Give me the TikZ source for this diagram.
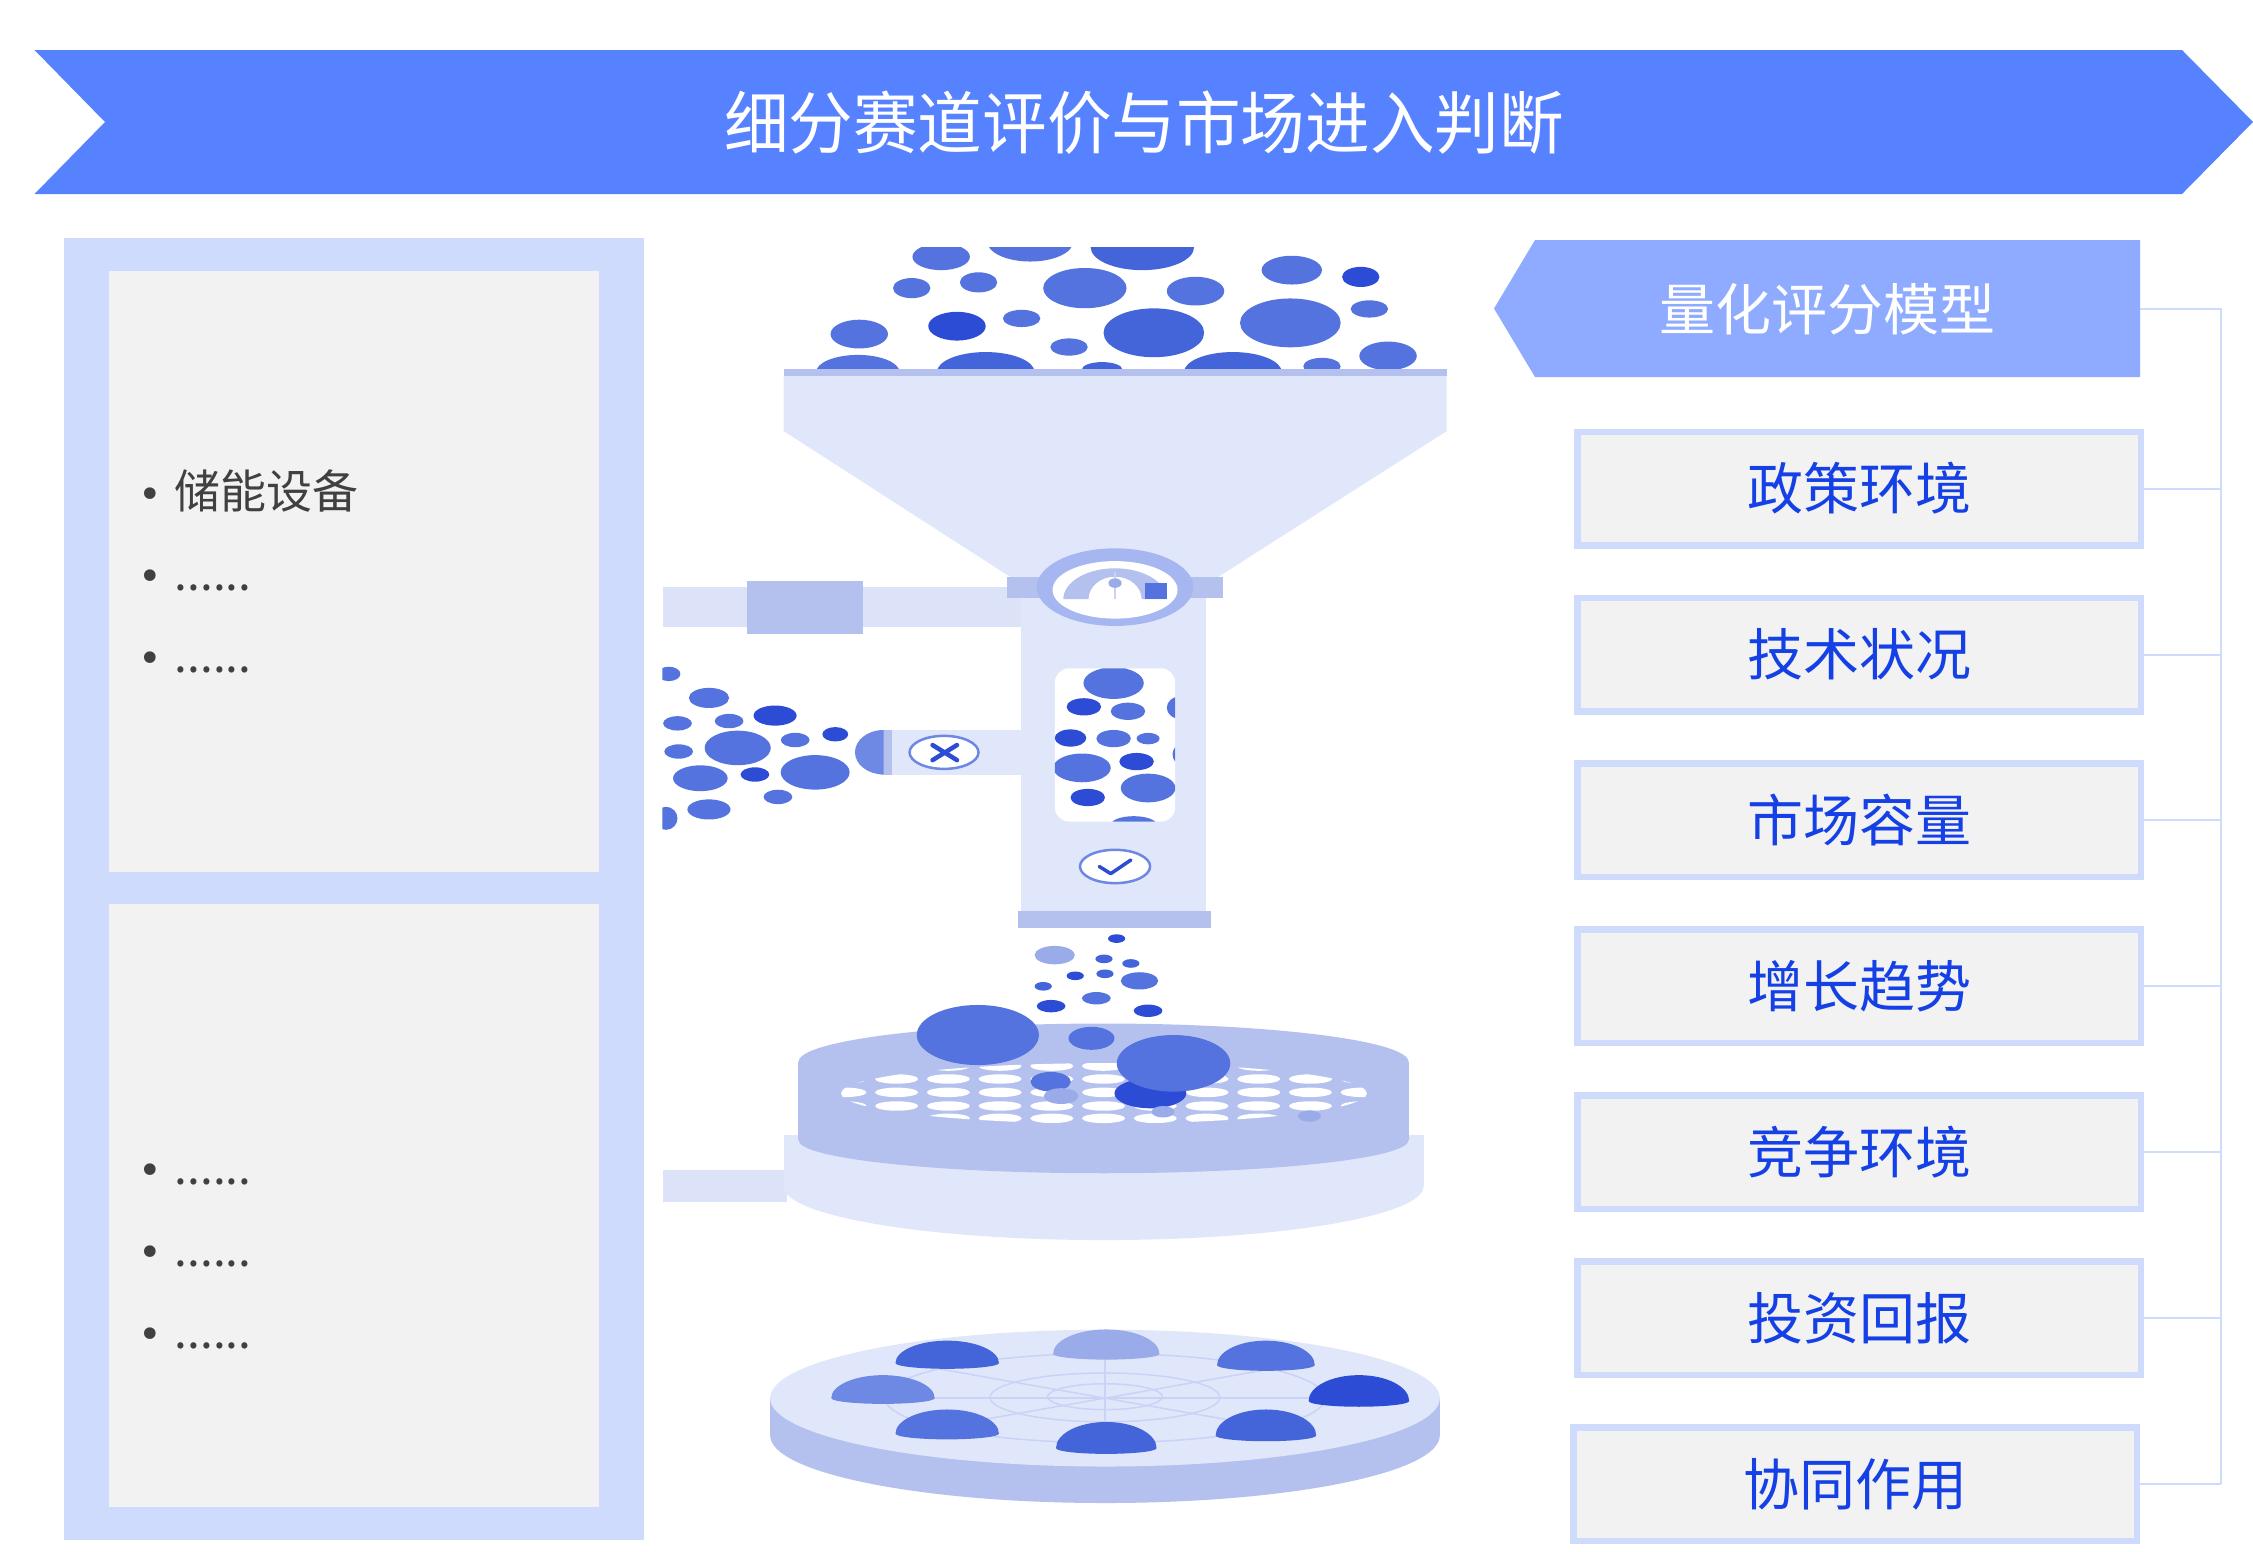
\documentclass[tikz,border=0pt]{standalone}
\usepackage{fontspec}
\setmainfont{Noto Sans CJK SC}
\newfontfamily\condfont[FakeStretch=0.95]{Noto Sans CJK SC}
\newfontfamily\bulfont{DejaVu Sans}
\definecolor{hdrblue}{HTML}{5782FF}
\definecolor{subhdr}{HTML}{8EABFF}
\definecolor{panelc}{HTML}{CFDBFD}
\definecolor{grayc}{HTML}{F2F2F2}
\definecolor{boxtxt}{HTML}{1440E6}
\definecolor{ltxtc}{HTML}{404040}
\definecolor{funL}{HTML}{E1E7FA}
\definecolor{pipeL}{HTML}{DCE2F8}
\definecolor{midc}{HTML}{B4C1EF}
\definecolor{ringc}{HTML}{A5B6F1}
\definecolor{gridc}{HTML}{C9D3F6}
\definecolor{iconc}{HTML}{6D88E3}
\definecolor{cA}{HTML}{2C4CD5}
\definecolor{cB}{HTML}{4464DA}
\definecolor{cC}{HTML}{5473DE}
\definecolor{cD}{HTML}{6E89E3}
\definecolor{cE}{HTML}{9AABEA}
\newcommand\mybub[5]{\fill[#1] (#2,#3) ellipse[x radius=#4,y radius=#5];}
\newcommand\mydome[5]{\fill[#1] ({#2-#5},{#4-4}) arc[start angle=180,end angle=360,x radius=#5,y radius={#4-4-#3}] arc[start angle=0,end angle=180,x radius=#5,y radius=4] -- cycle;}
\newcommand\mybullet{{\bulfont\fontsize{40}{40}\selectfont •}\hspace{13pt}}
\begin{document}
\begin{tikzpicture}[x=1pt,y=-1pt,
  rbox/.style={draw=panelc, line width=6.5pt, fill=grayc, minimum width=563.5pt, minimum height=113.5pt, inner sep=0pt, text=boxtxt, font=\fontsize{56}{60}\selectfont},
  conn/.style={draw=panelc, line width=2pt},
  ltxt/.style={anchor=base west, text=ltxtc, font=\fontsize{46}{50}\selectfont, inner sep=0pt},
  htxt/.style={text=white, inner sep=0pt}]
\useasboundingbox (0,0) rectangle (2253,1551);
\fill[white] (0,0) rectangle (2253,1551);

% ---------- title banner
\fill[hdrblue] (34.5,50) -- (2182,50) -- (2253,122) -- (2182,194) -- (34.5,194) -- (105,122) -- cycle;
\node[htxt, font=\condfont\fontsize{68}{72}\selectfont] (title) at (1144,123) {细分赛道评价与市场进入判断};

% ---------- left panel
\fill[panelc] (64,237.7) rectangle (643.6,1540);
\fill[grayc] (109,271) rectangle (599,872);
\fill[grayc] (109,904) rectangle (599,1507);
\node[ltxt] (l1) at (138,508) {\mybullet 储能设备};
\node[ltxt] (l2) at (138,590) {\mybullet ......};
\node[ltxt] (l3) at (138,672) {\mybullet ......};
\node[ltxt] (l4) at (138,1184) {\mybullet ......};
\node[ltxt] (l5) at (138,1266) {\mybullet ......};
\node[ltxt] (l6) at (138,1348) {\mybullet ......};

% ---------- right column
\fill[subhdr] (1535,240) -- (2140,240) -- (2140,377) -- (1535,377) -- (1494,308.5) -- cycle;
\node[htxt, font=\fontsize{56}{60}\selectfont] (h) at (1827,309.5) {量化评分模型};
\node[rbox] (r1) at (1859,488.5) {政策环境};
\node[rbox] (r2) at (1859,654.5) {技术状况};
\node[rbox] (r3) at (1859,820.4) {市场容量};
\node[rbox] (r4) at (1859,986.4) {增长趋势};
\node[rbox] (r5) at (1859,1152.4) {竞争环境};
\node[rbox] (r6) at (1859,1318.3) {投资回报};
\node[rbox] (r7) at (1855,1484.3) {协同作用};
\coordinate (hR) at (2140,308.5);
\coordinate (sp) at (2221,308.5);
\draw[conn] (hR) -- (sp) -- (sp |- r7.east);
\foreach \n in {r1,r2,r3,r4,r5,r6,r7} \draw[conn] (\n.east) -- (\n.east -| sp);

% ---------- illustration (coordinates in display units)
\begin{scope}[scale=1.4369]
  % top bubbles
  \begin{scope}
    \clip (540,172.5) rectangle (1010,259);
    \mybub{cC}{655}{178.7}{20}{9.3}
    \mybub{cC}{717}{168}{30}{14}
    \mybub{cB}{795}{172}{36}{16}
    \mybub{cC}{899}{188}{21}{10}
    \mybub{cA}{947}{192.7}{13}{7}
    \mybub{cC}{634.5}{200.5}{13}{7}
    \mybub{cC}{681}{196.5}{13}{7}
    \mybub{cC}{755}{200.5}{29}{14}
    \mybub{cC}{832}{202.6}{20}{10}
    \mybub{cC}{953}{215}{13}{6}
    \mybub{cC}{898}{224.7}{35}{17}
    \mybub{cC}{711}{221.6}{13}{6}
    \mybub{cA}{666}{227}{20}{10}
    \mybub{cB}{803}{231.6}{35}{17}
    \mybub{cC}{598}{232.5}{20}{10}
    \mybub{cC}{744}{241.5}{13}{6}
    \mybub{cC}{966}{247.7}{20}{10}
    \mybub{cC}{597}{259}{29}{12}
    \mybub{cB}{686}{259}{34}{14}
    \mybub{cB}{767}{257}{14}{5}
    \mybub{cB}{858}{259}{34}{14}
    \mybub{cC}{920}{255}{13}{6}
  \end{scope}
  % funnel
  \fill[funL] (545.4,261) -- (1006.8,261) -- (1006.8,300) -- (847,402) -- (707,404) -- (545.4,300) -- cycle;
  \fill[midc] (545.4,257) rectangle (1006.8,262);
  % left pipe
  \fill[pipeL] (461.5,408.6) rectangle (711,436.6);
  \fill[midc] (520,404.6) rectangle (600.5,441);
  % column
  \fill[funL] (710.8,415) rectangle (839.2,636);
  \fill[midc] (708.4,634) rectangle (843,646);
  % gauge
  \fill[midc] (700.6,401.3) rectangle (851.4,416.4);
  \fill[ringc] (776,408.6) ellipse[x radius=54.5,y radius=27];
  \fill[white] (776,410.5) ellipse[x radius=43.5,y radius=20];
  \fill[midc] (740,417) arc[start angle=180,end angle=360,x radius=36,y radius=21.5] -- (794.5,417) arc[start angle=0,end angle=-180,x radius=18.5,y radius=15.7] -- cycle;
  \fill[cC] (797,406) rectangle (812,417);
  \draw[gridc, line width=1.5pt] (776,398) -- (776,417);
  \fill[cE] (776,405.8) ellipse[x radius=4.6,y radius=3.3];
  % window with bubbles
  \fill[white, rounded corners=14pt] (734.2,465.1) rectangle (817.8,571.8);
  \begin{scope}
    \clip[rounded corners=14pt] (734.2,465.1) rectangle (817.8,571.8);
    \mybub{cC}{775}{475.4}{21}{11}
    \mybub{cA}{754.3}{491.9}{12}{6}
    \mybub{cC}{785}{495}{12}{6}
    \mybub{cC}{822}{492.5}{10}{8}
    \mybub{cA}{745}{513.6}{11}{6}
    \mybub{cC}{775}{514}{12}{6}
    \mybub{cC}{799}{514}{8}{4}
    \mybub{cC}{824}{525}{8}{8}
    \mybub{cC}{753}{534.4}{20}{10}
    \mybub{cA}{791}{530}{12}{6}
    \mybub{cC}{799}{548.4}{19}{10}
    \mybub{cA}{757}{555}{12}{6}
    \mybub{cC}{789}{574}{16}{6}
  \end{scope}
  % check icon
  \filldraw[fill=white, draw=iconc, line width=2.5pt] (776,603) ellipse[x radius=24.4,y radius=11.6];
  \draw[cA, line width=3.5pt, line cap=round, line join=round] (765,603) -- (773,608) -- (787,598.5);
  % left branch
  \fill[funL] (613,508) rectangle (711,539);
  \fill[midc] (613,508) rectangle (621,539);
  \filldraw[fill=white, draw=iconc, line width=2.5pt] (657,523.6) ellipse[x radius=24,y radius=11.5];
  \draw[cA, line width=4.5pt, line cap=round] (649,518.5) -- (666,529) (649,529) -- (666,518.5);
  \fill[cD] (615,508) arc[start angle=270,end angle=90,x radius=20,y radius=15.5] -- cycle;
  % spray
  \begin{scope}
    \clip (461,440) rectangle (640,600);
    \mybub{cC}{465.5}{469}{8}{5}
    \mybub{cC}{493.4}{485.7}{14}{7}
    \mybub{cA}{539.4}{498}{15}{7}
    \mybub{cC}{471.5}{503.4}{10}{5}
    \mybub{cC}{507.4}{501.8}{10}{5}
    \mybub{cA}{581.3}{511}{9}{5}
    \mybub{cC}{513.4}{520.5}{23}{12}
    \mybub{cC}{553.4}{515}{10}{5}
    \mybub{cC}{472.3}{523}{10}{5}
    \mybub{cC}{567.3}{537.5}{24}{12}
    \mybub{cC}{487.4}{541.6}{19}{9}
    \mybub{cA}{525.4}{539}{10}{5}
    \mybub{cC}{541.4}{554.6}{10}{5}
    \mybub{cC}{493.4}{563.3}{15}{7}
    \mybub{cC}{463.5}{569.5}{8}{8}
  \end{scope}
  % falling bubbles
  \mybub{cA}{777.1}{653.2}{6}{3}
  \mybub{cE}{734}{664.7}{14}{6.4}
  \mybub{cB}{768.3}{667.3}{6}{3}
  \mybub{cB}{787}{670.5}{6}{3}
  \mybub{cA}{748.3}{679.1}{6}{3}
  \mybub{cB}{769}{677.7}{6}{3}
  \mybub{cC}{793}{682.6}{13}{6}
  \mybub{cB}{726}{686.4}{6}{3}
  \mybub{cC}{763}{694.7}{10}{4.3}
  \mybub{cA}{731.5}{700.2}{10}{4.3}
  \mybub{cA}{799}{703.4}{10}{4.3}
  % base under tray
  \fill[pipeL] (461.5,814) rectangle (547.4,836.5);
  \fill[funL] (545.4,790) rectangle (990.8,825.5);
  \fill[funL] (768,825.5) ellipse[x radius=222.7,y radius=37.5];
  % tray
  \fill[midc] (768,793.5) ellipse[x radius=212.3,y radius=23];
  \fill[midc] (555.7,739) rectangle (980.3,793.5);
  \fill[midc] (768,739) ellipse[x radius=212.3,y radius=26.7];
  \begin{scope}
    \clip (768.3,760.9) ellipse[x radius=183,y radius=21];
    \foreach \yy in {741.9,750.9,760.2,769.7,778.3}
      \foreach \k in {-6,...,6}
        \fill[white] ({768+36*\k},\yy) ellipse[x radius=15,y radius=3.3];
  \end{scope}
  \mybub{cC}{680.5}{720.3}{42.5}{20.9}
  \mybub{cC}{759.6}{722.6}{16}{8}
  \mybub{cC}{731.2}{752.8}{14}{6.8}
  \mybub{cE}{738.5}{762.8}{12}{5.5}
  \mybub{cA}{800.6}{760.9}{25}{10.4}
  \mybub{cC}{816.7}{740}{39.5}{19.7}
  \mybub{cE}{809.4}{773.7}{8}{4}
  \mybub{cE}{911.3}{776.7}{8}{4}
  % bottom platter
  \fill[midc] (769,999) ellipse[x radius=233,y radius=47];
  \fill[midc] (536,973) rectangle (1002,999);
  \fill[funL] (769,973) ellipse[x radius=233,y radius=47.6];
  \begin{scope}[gridc, line width=1.5pt]
    \draw (769,972) ellipse[x radius=40,y radius=9];
    \draw (769,972.5) ellipse[x radius=80,y radius=17];
    \draw (769,973) ellipse[x radius=153,y radius=31];
    \foreach \a in {0,41,90,139,180,221,270,319}
      \draw (769,973) -- ++({153*cos(\a)},{31*sin(\a)});
  \end{scope}
  \mydome{cB}{659.2}{933}{952.6}{36}
  \mydome{cE}{769.9}{925.2}{946.2}{37}
  \mydome{cC}{881}{933}{954}{34}
  \mydome{cD}{614.5}{957}{977}{36}
  \mydome{cA}{945.7}{957}{979}{35}
  \mydome{cC}{659.2}{980.9}{1001.7}{36}
  \mydome{cB}{769.9}{989.6}{1011.8}{35}
  \mydome{cB}{881}{980.9}{1003}{35}
\end{scope}
\end{tikzpicture}
\end{document}
